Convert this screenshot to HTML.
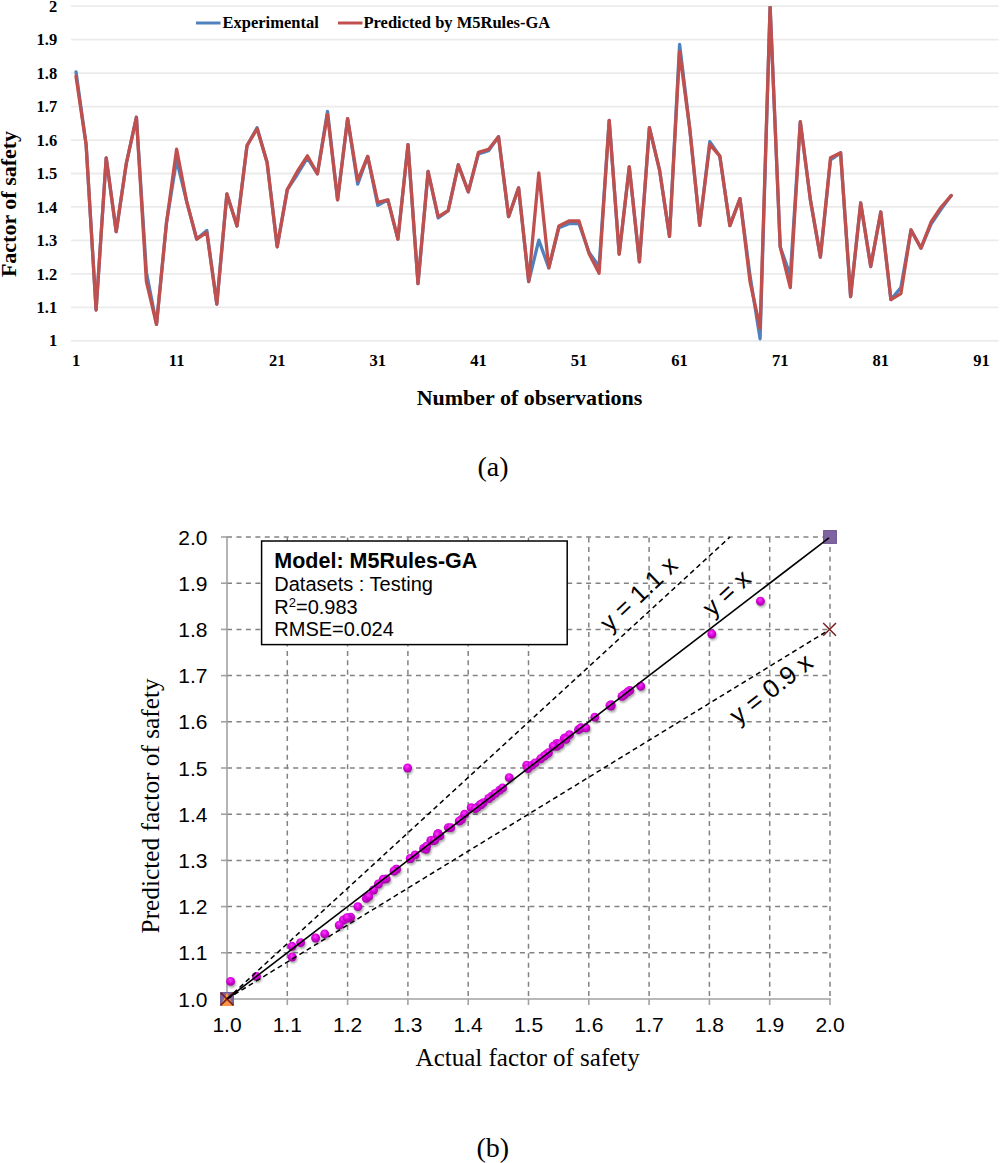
<!DOCTYPE html>
<html><head><meta charset="utf-8"><style>
html,body{margin:0;padding:0;background:#fff;}
body{width:1000px;height:1163px;overflow:hidden;position:relative;}
svg{position:absolute;left:0;top:0;}
.sb{font-family:"Liberation Serif",serif;font-weight:bold;fill:#000;}
.sr{font-family:"Liberation Serif",serif;fill:#000;}
.ss{font-family:"Liberation Sans",sans-serif;fill:#000;}
</style></head><body>
<svg width="1000" height="1163" viewBox="0 0 1000 1163">
<defs>
<radialGradient id="dot" cx="0.45" cy="0.35" r="0.72">
<stop offset="0" stop-color="#FF3CFF"/>
<stop offset="0.5" stop-color="#D400D8"/>
<stop offset="1" stop-color="#960096"/>
</radialGradient>
<clipPath id="pa"><rect x="60" y="6.15" width="940" height="340"/></clipPath>
<filter id="sh" x="-50%" y="-50%" width="200%" height="200%"><feGaussianBlur stdDeviation="1.2"/></filter>
</defs>

<g stroke="#EBEBEB" stroke-width="1.8">
<line x1="71" y1="340.80" x2="998.5" y2="340.80"/>
<line x1="71" y1="307.34" x2="998.5" y2="307.34"/>
<line x1="71" y1="273.88" x2="998.5" y2="273.88"/>
<line x1="71" y1="240.42" x2="998.5" y2="240.42"/>
<line x1="71" y1="206.96" x2="998.5" y2="206.96"/>
<line x1="71" y1="173.50" x2="998.5" y2="173.50"/>
<line x1="71" y1="140.04" x2="998.5" y2="140.04"/>
<line x1="71" y1="106.58" x2="998.5" y2="106.58"/>
<line x1="71" y1="73.12" x2="998.5" y2="73.12"/>
<line x1="71" y1="39.66" x2="998.5" y2="39.66"/>
<line x1="71" y1="6.20" x2="998.5" y2="6.20"/>
</g>
<g class="sb" font-size="16.5" text-anchor="end">
<text x="57.2" y="346.4">1</text>
<text x="57.2" y="312.9">1.1</text>
<text x="57.2" y="279.5">1.2</text>
<text x="57.2" y="246.0">1.3</text>
<text x="57.2" y="212.6">1.4</text>
<text x="57.2" y="179.1">1.5</text>
<text x="57.2" y="145.6">1.6</text>
<text x="57.2" y="112.2">1.7</text>
<text x="57.2" y="78.7">1.8</text>
<text x="57.2" y="45.3">1.9</text>
<text x="57.2" y="11.8">2</text>
</g>
<g class="sb" font-size="16.5" text-anchor="middle">
<text x="76.0" y="366">1</text>
<text x="176.6" y="366">11</text>
<text x="277.2" y="366">21</text>
<text x="377.8" y="366">31</text>
<text x="478.4" y="366">41</text>
<text x="579.0" y="366">51</text>
<text x="679.6" y="366">61</text>
<text x="780.2" y="366">71</text>
<text x="880.8" y="366">81</text>
<text x="981.4" y="366">91</text>
</g>
<text class="sb" font-size="22" x="529.5" y="404.5" text-anchor="middle">Number of observations</text>
<text class="sb" font-size="22" transform="translate(15.8,204) rotate(-90)" text-anchor="middle">Factor of safety</text>
<line x1="196" y1="23" x2="220.5" y2="23" stroke="#4F81BD" stroke-width="3"/>
<text class="sb" font-size="16.5" x="222.5" y="28">Experimental</text>
<line x1="338" y1="23" x2="362.5" y2="23" stroke="#C0504D" stroke-width="3"/>
<text class="sb" font-size="16.5" x="363.5" y="28">Predicted by M5Rules-GA</text>
<polyline points="76.0,71.8 86.1,144.4 96.1,310.0 106.2,157.8 116.2,231.7 126.3,163.5 136.4,117.3 146.4,272.2 156.5,324.4 166.5,222.7 176.6,160.1 186.7,201.6 196.7,239.1 206.8,230.4 216.8,304.0 226.9,193.9 237.0,226.0 247.0,145.7 257.1,127.7 267.1,162.5 277.2,246.8 287.3,189.6 297.3,174.5 307.4,157.8 317.4,173.8 327.5,111.3 337.6,199.9 347.6,118.6 357.7,184.2 367.7,156.4 377.8,205.3 387.9,199.9 397.9,239.1 408.0,144.7 418.0,283.6 428.1,171.5 438.2,218.0 448.2,210.6 458.3,164.8 468.3,191.9 478.4,153.8 488.5,150.7 498.5,136.7 508.6,216.7 518.6,187.9 528.7,281.6 538.8,240.1 548.8,267.9 558.9,227.7 568.9,223.7 579.0,223.7 589.1,252.5 599.1,266.5 609.2,120.3 619.2,254.1 629.3,166.8 639.4,261.8 649.4,127.7 659.5,169.8 669.5,236.4 679.6,44.3 689.7,128.3 699.7,225.4 709.8,141.7 719.8,156.1 729.9,225.7 740.0,198.6 750.0,275.6 760.1,338.8 770.1,6.2 780.2,246.8 790.3,275.6 800.3,121.6 810.4,199.9 820.4,257.1 830.5,159.8 840.6,152.8 850.6,296.6 860.7,202.9 870.7,266.5 880.8,212.0 890.9,299.6 900.9,287.6 911.0,230.0 921.0,248.1 931.1,224.0 941.2,209.0 951.2,195.6" fill="none" stroke="#4F81BD" stroke-width="3.3" stroke-linejoin="round" stroke-linecap="round" clip-path="url(#pa)"/>
<polyline points="76.0,76.5 86.1,144.4 96.1,310.0 106.2,157.8 116.2,231.7 126.3,163.5 136.4,117.3 146.4,281.6 156.5,324.4 166.5,222.7 176.6,149.1 186.7,201.6 196.7,239.1 206.8,232.4 216.8,304.0 226.9,193.9 237.0,226.0 247.0,145.7 257.1,128.7 267.1,162.5 277.2,246.8 287.3,189.6 297.3,171.5 307.4,155.8 317.4,173.8 327.5,114.3 337.6,199.9 347.6,118.6 357.7,180.5 367.7,156.4 377.8,202.3 387.9,199.9 397.9,239.1 408.0,144.7 418.0,283.6 428.1,171.5 438.2,216.7 448.2,210.6 458.3,164.8 468.3,191.9 478.4,152.4 488.5,149.4 498.5,136.7 508.6,216.7 518.6,187.9 528.7,281.6 538.8,172.8 548.8,267.9 558.9,226.0 568.9,221.0 579.0,221.0 589.1,253.8 599.1,273.2 609.2,120.3 619.2,254.1 629.3,166.8 639.4,261.8 649.4,127.7 659.5,169.8 669.5,236.4 679.6,51.7 689.7,128.3 699.7,225.4 709.8,144.4 719.8,156.1 729.9,225.7 740.0,198.6 750.0,281.6 760.1,328.1 770.1,6.2 780.2,246.8 790.3,287.6 800.3,121.6 810.4,199.9 820.4,257.1 830.5,157.8 840.6,152.8 850.6,296.6 860.7,202.9 870.7,266.5 880.8,212.0 890.9,299.6 900.9,293.6 911.0,230.0 921.0,248.1 931.1,222.0 941.2,207.0 951.2,195.6" fill="none" stroke="#C0504D" stroke-width="3.3" stroke-linejoin="round" stroke-linecap="round" clip-path="url(#pa)"/>
<text class="sr" font-size="28" x="493" y="476" text-anchor="middle">(a)</text>
<g stroke="#828282" stroke-width="1.5" stroke-dasharray="5 4.45" fill="none">
<line x1="227.0" y1="952.8" x2="830.0" y2="952.8"/>
<line x1="287.3" y1="537.5" x2="287.3" y2="999.0"/>
<line x1="227.0" y1="906.6" x2="830.0" y2="906.6"/>
<line x1="347.6" y1="537.5" x2="347.6" y2="999.0"/>
<line x1="227.0" y1="860.4" x2="830.0" y2="860.4"/>
<line x1="407.9" y1="537.5" x2="407.9" y2="999.0"/>
<line x1="227.0" y1="814.2" x2="830.0" y2="814.2"/>
<line x1="468.2" y1="537.5" x2="468.2" y2="999.0"/>
<line x1="227.0" y1="768.0" x2="830.0" y2="768.0"/>
<line x1="528.5" y1="537.5" x2="528.5" y2="999.0"/>
<line x1="227.0" y1="721.8" x2="830.0" y2="721.8"/>
<line x1="588.8" y1="537.5" x2="588.8" y2="999.0"/>
<line x1="227.0" y1="675.6" x2="830.0" y2="675.6"/>
<line x1="649.1" y1="537.5" x2="649.1" y2="999.0"/>
<line x1="227.0" y1="629.4" x2="830.0" y2="629.4"/>
<line x1="709.4" y1="537.5" x2="709.4" y2="999.0"/>
<line x1="227.0" y1="583.2" x2="830.0" y2="583.2"/>
<line x1="769.7" y1="537.5" x2="769.7" y2="999.0"/>
<line x1="227.0" y1="537.0" x2="830.0" y2="537.0"/>
<line x1="830.0" y1="537.5" x2="830.0" y2="999.0"/>
</g>
<g stroke="#A2A2A2" stroke-width="1.6" fill="none">
<line x1="227.0" y1="536.0" x2="227.0" y2="1005.0"/>
<line x1="221.0" y1="999.0" x2="831.0" y2="999.0"/>
<line x1="221.0" y1="999.0" x2="227.0" y2="999.0"/>
<line x1="227.0" y1="999.0" x2="227.0" y2="1005.0"/>
<line x1="221.0" y1="952.8" x2="227.0" y2="952.8"/>
<line x1="287.3" y1="999.0" x2="287.3" y2="1005.0"/>
<line x1="221.0" y1="906.6" x2="227.0" y2="906.6"/>
<line x1="347.6" y1="999.0" x2="347.6" y2="1005.0"/>
<line x1="221.0" y1="860.4" x2="227.0" y2="860.4"/>
<line x1="407.9" y1="999.0" x2="407.9" y2="1005.0"/>
<line x1="221.0" y1="814.2" x2="227.0" y2="814.2"/>
<line x1="468.2" y1="999.0" x2="468.2" y2="1005.0"/>
<line x1="221.0" y1="768.0" x2="227.0" y2="768.0"/>
<line x1="528.5" y1="999.0" x2="528.5" y2="1005.0"/>
<line x1="221.0" y1="721.8" x2="227.0" y2="721.8"/>
<line x1="588.8" y1="999.0" x2="588.8" y2="1005.0"/>
<line x1="221.0" y1="675.6" x2="227.0" y2="675.6"/>
<line x1="649.1" y1="999.0" x2="649.1" y2="1005.0"/>
<line x1="221.0" y1="629.4" x2="227.0" y2="629.4"/>
<line x1="709.4" y1="999.0" x2="709.4" y2="1005.0"/>
<line x1="221.0" y1="583.2" x2="227.0" y2="583.2"/>
<line x1="769.7" y1="999.0" x2="769.7" y2="1005.0"/>
<line x1="221.0" y1="537.0" x2="227.0" y2="537.0"/>
<line x1="830.0" y1="999.0" x2="830.0" y2="1005.0"/>
</g>
<g class="ss" font-size="21" text-anchor="end">
<text x="207.5" y="1006.6">1.0</text>
<text x="207.5" y="960.4">1.1</text>
<text x="207.5" y="914.2">1.2</text>
<text x="207.5" y="868.0">1.3</text>
<text x="207.5" y="821.8">1.4</text>
<text x="207.5" y="775.6">1.5</text>
<text x="207.5" y="729.4">1.6</text>
<text x="207.5" y="683.2">1.7</text>
<text x="207.5" y="637.0">1.8</text>
<text x="207.5" y="590.8">1.9</text>
<text x="207.5" y="544.6">2.0</text>
</g>
<g class="ss" font-size="21" text-anchor="middle">
<text x="227.0" y="1031.9">1.0</text>
<text x="287.3" y="1031.9">1.1</text>
<text x="347.6" y="1031.9">1.2</text>
<text x="407.9" y="1031.9">1.3</text>
<text x="468.2" y="1031.9">1.4</text>
<text x="528.5" y="1031.9">1.5</text>
<text x="588.8" y="1031.9">1.6</text>
<text x="649.1" y="1031.9">1.7</text>
<text x="709.4" y="1031.9">1.8</text>
<text x="769.7" y="1031.9">1.9</text>
<text x="830.0" y="1031.9">2.0</text>
</g>
<text class="sr" font-size="25" x="527.7" y="1065.8" text-anchor="middle">Actual factor of safety</text>
<text class="sr" font-size="25.3" transform="translate(159.3,805.9) rotate(-90)" text-anchor="middle">Predicted factor of safety</text>
<g fill="#000" opacity="0.35" filter="url(#sh)">
<circle cx="712.8" cy="636.0" r="4.4"/>
<circle cx="582.0" cy="729.8" r="4.4"/>
<circle cx="293.1" cy="959.0" r="4.4"/>
<circle cx="557.8" cy="748.3" r="4.4"/>
<circle cx="424.6" cy="850.4" r="4.4"/>
<circle cx="547.6" cy="756.1" r="4.4"/>
<circle cx="630.8" cy="692.4" r="4.4"/>
<circle cx="351.6" cy="919.2" r="4.4"/>
<circle cx="257.5" cy="978.4" r="4.4"/>
<circle cx="440.9" cy="837.9" r="4.4"/>
<circle cx="565.7" cy="740.0" r="4.4"/>
<circle cx="478.8" cy="808.8" r="4.4"/>
<circle cx="411.3" cy="860.6" r="4.4"/>
<circle cx="427.0" cy="851.3" r="4.4"/>
<circle cx="293.1" cy="948.3" r="4.4"/>
<circle cx="492.7" cy="798.2" r="4.4"/>
<circle cx="434.8" cy="842.5" r="4.4"/>
<circle cx="579.5" cy="731.7" r="4.4"/>
<circle cx="612.1" cy="708.1" r="4.4"/>
<circle cx="549.4" cy="754.8" r="4.4"/>
<circle cx="397.4" cy="871.2" r="4.4"/>
<circle cx="500.6" cy="792.2" r="4.4"/>
<circle cx="527.7" cy="767.2" r="4.4"/>
<circle cx="557.8" cy="745.5" r="4.4"/>
<circle cx="528.9" cy="770.5" r="4.4"/>
<circle cx="641.7" cy="688.2" r="4.4"/>
<circle cx="481.9" cy="806.5" r="4.4"/>
<circle cx="628.4" cy="694.2" r="4.4"/>
<circle cx="510.2" cy="779.7" r="4.4"/>
<circle cx="560.3" cy="746.4" r="4.4"/>
<circle cx="472.2" cy="809.7" r="4.4"/>
<circle cx="481.9" cy="806.5" r="4.4"/>
<circle cx="411.3" cy="860.6" r="4.4"/>
<circle cx="581.4" cy="730.3" r="4.4"/>
<circle cx="344.4" cy="922.0" r="4.4"/>
<circle cx="533.1" cy="767.2" r="4.4"/>
<circle cx="449.3" cy="829.6" r="4.4"/>
<circle cx="462.6" cy="821.3" r="4.4"/>
<circle cx="545.2" cy="758.0" r="4.4"/>
<circle cx="496.3" cy="795.4" r="4.4"/>
<circle cx="565.1" cy="740.9" r="4.4"/>
<circle cx="570.5" cy="736.7" r="4.4"/>
<circle cx="595.8" cy="719.2" r="4.4"/>
<circle cx="451.7" cy="829.6" r="4.4"/>
<circle cx="503.6" cy="789.9" r="4.4"/>
<circle cx="349.2" cy="920.1" r="4.4"/>
<circle cx="408.6" cy="770.0" r="4.4"/>
<circle cx="367.3" cy="900.3" r="4.4"/>
<circle cx="431.8" cy="842.5" r="4.4"/>
<circle cx="439.1" cy="835.6" r="4.4"/>
<circle cx="439.1" cy="835.6" r="4.4"/>
<circle cx="387.2" cy="880.9" r="4.4"/>
<circle cx="358.9" cy="908.6" r="4.4"/>
<circle cx="625.4" cy="696.5" r="4.4"/>
<circle cx="384.2" cy="881.3" r="4.4"/>
<circle cx="541.6" cy="760.8" r="4.4"/>
<circle cx="374.5" cy="892.0" r="4.4"/>
<circle cx="612.1" cy="706.7" r="4.4"/>
<circle cx="536.1" cy="764.9" r="4.4"/>
<circle cx="416.1" cy="856.9" r="4.4"/>
<circle cx="761.4" cy="603.2" r="4.4"/>
<circle cx="610.9" cy="707.6" r="4.4"/>
<circle cx="436.0" cy="841.6" r="4.4"/>
<circle cx="586.8" cy="729.8" r="4.4"/>
<circle cx="560.9" cy="746.0" r="4.4"/>
<circle cx="435.4" cy="842.1" r="4.4"/>
<circle cx="484.3" cy="804.6" r="4.4"/>
<circle cx="348.0" cy="919.7" r="4.4"/>
<circle cx="231.6" cy="983.4" r="4.4"/>
<circle cx="397.4" cy="871.2" r="4.4"/>
<circle cx="340.2" cy="927.1" r="4.4"/>
<circle cx="623.0" cy="698.4" r="4.4"/>
<circle cx="481.9" cy="806.5" r="4.4"/>
<circle cx="379.4" cy="886.0" r="4.4"/>
<circle cx="554.2" cy="748.3" r="4.4"/>
<circle cx="566.9" cy="741.4" r="4.4"/>
<circle cx="316.6" cy="940.0" r="4.4"/>
<circle cx="476.4" cy="810.7" r="4.4"/>
<circle cx="369.7" cy="898.4" r="4.4"/>
<circle cx="460.2" cy="823.1" r="4.4"/>
<circle cx="301.6" cy="944.6" r="4.4"/>
<circle cx="325.7" cy="935.9" r="4.4"/>
<circle cx="427.6" cy="848.1" r="4.4"/>
<circle cx="395.0" cy="873.0" r="4.4"/>
<circle cx="438.4" cy="837.0" r="4.4"/>
<circle cx="465.6" cy="816.2" r="4.4"/>
<circle cx="489.7" cy="800.5" r="4.4"/>
</g>
<g fill="url(#dot)">
<circle cx="711.8" cy="634.0" r="4.45"/>
<circle cx="581.0" cy="727.8" r="4.45"/>
<circle cx="292.1" cy="957.0" r="4.45"/>
<circle cx="556.8" cy="746.3" r="4.45"/>
<circle cx="423.6" cy="848.4" r="4.45"/>
<circle cx="546.6" cy="754.1" r="4.45"/>
<circle cx="629.8" cy="690.4" r="4.45"/>
<circle cx="350.6" cy="917.2" r="4.45"/>
<circle cx="256.5" cy="976.4" r="4.45"/>
<circle cx="439.9" cy="835.9" r="4.45"/>
<circle cx="564.7" cy="738.0" r="4.45"/>
<circle cx="477.8" cy="806.8" r="4.45"/>
<circle cx="410.3" cy="858.6" r="4.45"/>
<circle cx="426.0" cy="849.3" r="4.45"/>
<circle cx="292.1" cy="946.3" r="4.45"/>
<circle cx="491.7" cy="796.2" r="4.45"/>
<circle cx="433.8" cy="840.5" r="4.45"/>
<circle cx="578.5" cy="729.7" r="4.45"/>
<circle cx="611.1" cy="706.1" r="4.45"/>
<circle cx="548.4" cy="752.8" r="4.45"/>
<circle cx="396.4" cy="869.2" r="4.45"/>
<circle cx="499.6" cy="790.2" r="4.45"/>
<circle cx="526.7" cy="765.2" r="4.45"/>
<circle cx="556.8" cy="743.5" r="4.45"/>
<circle cx="527.9" cy="768.5" r="4.45"/>
<circle cx="640.7" cy="686.2" r="4.45"/>
<circle cx="480.9" cy="804.5" r="4.45"/>
<circle cx="627.4" cy="692.2" r="4.45"/>
<circle cx="509.2" cy="777.7" r="4.45"/>
<circle cx="559.3" cy="744.4" r="4.45"/>
<circle cx="471.2" cy="807.7" r="4.45"/>
<circle cx="480.9" cy="804.5" r="4.45"/>
<circle cx="410.3" cy="858.6" r="4.45"/>
<circle cx="580.4" cy="728.3" r="4.45"/>
<circle cx="343.4" cy="920.0" r="4.45"/>
<circle cx="532.1" cy="765.2" r="4.45"/>
<circle cx="448.3" cy="827.6" r="4.45"/>
<circle cx="461.6" cy="819.3" r="4.45"/>
<circle cx="544.2" cy="756.0" r="4.45"/>
<circle cx="495.3" cy="793.4" r="4.45"/>
<circle cx="564.1" cy="738.9" r="4.45"/>
<circle cx="569.5" cy="734.7" r="4.45"/>
<circle cx="594.8" cy="717.2" r="4.45"/>
<circle cx="450.7" cy="827.6" r="4.45"/>
<circle cx="502.6" cy="787.9" r="4.45"/>
<circle cx="348.2" cy="918.1" r="4.45"/>
<circle cx="407.6" cy="768.0" r="4.45"/>
<circle cx="366.3" cy="898.3" r="4.45"/>
<circle cx="430.8" cy="840.5" r="4.45"/>
<circle cx="438.1" cy="833.6" r="4.45"/>
<circle cx="438.1" cy="833.6" r="4.45"/>
<circle cx="386.2" cy="878.9" r="4.45"/>
<circle cx="357.9" cy="906.6" r="4.45"/>
<circle cx="624.4" cy="694.5" r="4.45"/>
<circle cx="383.2" cy="879.3" r="4.45"/>
<circle cx="540.6" cy="758.8" r="4.45"/>
<circle cx="373.5" cy="890.0" r="4.45"/>
<circle cx="611.1" cy="704.7" r="4.45"/>
<circle cx="535.1" cy="762.9" r="4.45"/>
<circle cx="415.1" cy="854.9" r="4.45"/>
<circle cx="760.4" cy="601.2" r="4.45"/>
<circle cx="609.9" cy="705.6" r="4.45"/>
<circle cx="435.0" cy="839.6" r="4.45"/>
<circle cx="585.8" cy="727.8" r="4.45"/>
<circle cx="559.9" cy="744.0" r="4.45"/>
<circle cx="434.4" cy="840.1" r="4.45"/>
<circle cx="483.3" cy="802.6" r="4.45"/>
<circle cx="347.0" cy="917.7" r="4.45"/>
<circle cx="230.6" cy="981.4" r="4.45"/>
<circle cx="396.4" cy="869.2" r="4.45"/>
<circle cx="339.2" cy="925.1" r="4.45"/>
<circle cx="622.0" cy="696.4" r="4.45"/>
<circle cx="480.9" cy="804.5" r="4.45"/>
<circle cx="378.4" cy="884.0" r="4.45"/>
<circle cx="553.2" cy="746.3" r="4.45"/>
<circle cx="565.9" cy="739.4" r="4.45"/>
<circle cx="315.6" cy="938.0" r="4.45"/>
<circle cx="475.4" cy="808.7" r="4.45"/>
<circle cx="368.7" cy="896.4" r="4.45"/>
<circle cx="459.2" cy="821.1" r="4.45"/>
<circle cx="300.6" cy="942.6" r="4.45"/>
<circle cx="324.7" cy="933.9" r="4.45"/>
<circle cx="426.6" cy="846.1" r="4.45"/>
<circle cx="394.0" cy="871.0" r="4.45"/>
<circle cx="437.4" cy="835.0" r="4.45"/>
<circle cx="464.6" cy="814.2" r="4.45"/>
<circle cx="488.7" cy="798.5" r="4.45"/>
</g>
<rect x="823.6" y="530.6" width="12.8" height="12.8" fill="#8064A2" stroke="#6C5590" stroke-width="1"/>
<rect x="220.6" y="992.6" width="12.8" height="12.8" fill="#8064A2" stroke="#6C5590" stroke-width="1"/>
<polygon points="220.5,1006.0 233.5,1006.0 227.0,992.5" fill="#F79646"/>
<line x1="227.0" y1="999.0" x2="730" y2="537.0" stroke="#000" stroke-width="1.5" stroke-dasharray="5 3.5"/>
<line x1="227.0" y1="999.0" x2="827.5" y2="630.9" stroke="#000" stroke-width="1.5" stroke-dasharray="5 3.5"/>
<path d="M823.2,623.0L836.0,635.8M836.0,623.0L823.2,635.8" stroke="#7A1E1E" stroke-width="1.5" fill="none"/>
<path d="M220.6,992.6L233.4,1005.4M233.4,992.6L220.6,1005.4" stroke="#7A1E1E" stroke-width="1.5" fill="none"/>
<line x1="227.0" y1="999.0" x2="829.0" y2="537.8" stroke="#000" stroke-width="1.6"/>
<text class="ss" font-size="25" transform="translate(641,596.3) rotate(-43.4)" y="5" text-anchor="middle">y = 1.1 x</text>
<text class="ss" font-size="25.5" transform="translate(729,595.7) rotate(-42.3)" y="5" text-anchor="middle">y = x</text>
<text class="ss" font-size="25.5" transform="translate(773.3,691.6) rotate(-37.9)" y="5" text-anchor="middle">y = 0.9 x</text>
<rect x="261.6" y="541" width="305.6" height="103.6" fill="#fff" stroke="#000" stroke-width="1.5"/>
<text class="ss" font-size="21.5" font-weight="bold" x="274.3" y="568">Model: M5Rules-GA</text>
<text class="ss" font-size="20" x="274.3" y="591">Datasets : Testing</text>
<text class="ss" font-size="20" x="274.3" y="613.5">R<tspan font-size="13" dy="-7">2</tspan><tspan dy="7">=0.983</tspan></text>
<text class="ss" font-size="20" x="274.3" y="636">RMSE=0.024</text>
<text class="sr" font-size="28" x="492.8" y="1156.5" text-anchor="middle">(b)</text>
</svg></body></html>
